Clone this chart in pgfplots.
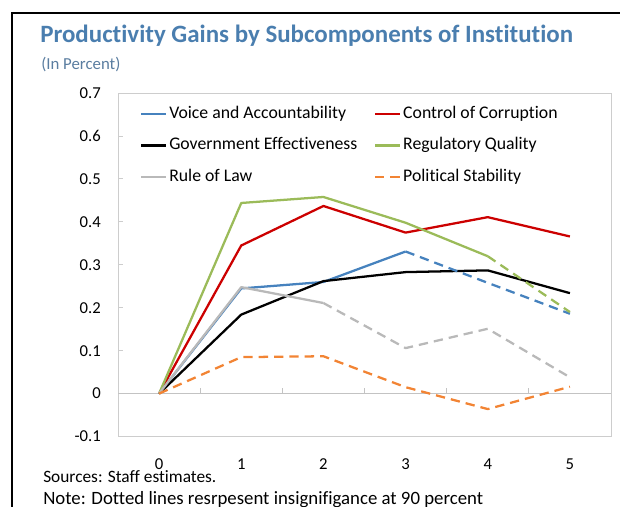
\documentclass[border=0pt]{standalone}
\usepackage{fontspec}
\setmainfont{Carlito}[Ligatures={NoCommon}]
\usepackage{pgfplots}
\pgfplotsset{compat=1.18}

\definecolor{titleblue}{RGB}{74,126,175}
\definecolor{subblue}{RGB}{90,125,160}
\definecolor{boxgray}{RGB}{205,205,205}
\definecolor{zerogray}{RGB}{195,195,195}
\definecolor{vablue}{RGB}{70,130,190}
\definecolor{ccred}{RGB}{204,0,0}
\definecolor{rqgreen}{RGB}{155,187,89}
\definecolor{rlgray}{RGB}{185,185,185}
\definecolor{psorange}{RGB}{242,132,52}

\tikzset{insig/.style={dash pattern=on 7pt off 4.5pt}}

\begin{document}
\begin{tikzpicture}
\path[use as bounding box] (0,0) rectangle (465pt,-379.5pt);
% outer frame of the page box
\draw[line width=1.5pt] (9.15pt,-400pt) -- (9.15pt,-9.75pt) -- (480pt,-9.75pt);
\node[anchor=base west, inner sep=0pt, text=titleblue, font=\fontsize{18.7}{22}\selectfont\bfseries]
  at (30pt,-32pt) {Productivity Gains by Subcomponents of Institution};
\node[anchor=base west, inner sep=0pt, text=subblue, font=\fontsize{12.6}{15}\selectfont]
  at (30.75pt,-52.1pt) {(In Percent)};

\begin{axis}[
  at={(88.5pt,-327.4pt)}, anchor=south west,
  scale only axis, width=369.75pt, height=257.6pt,
  xmin=-0.5, xmax=5.5, ymin=-0.1, ymax=0.7,
  axis line style={draw=boxgray, line width=0.75pt},
  tick pos=left,
  xtick={0,1,2,3,4,5}, xticklabels={0,1,2,3,4,5},
  xtick style={draw=none},
  ytick={-0.1,0,0.1,0.2,0.3,0.4,0.5,0.6,0.7},
  yticklabels={-0.1,0,0.1,0.2,0.3,0.4,0.5,0.6,0.7},
  ytick style={draw=boxgray, line width=0.75pt},
  major tick length=4pt,
  tick label style={font=\fontsize{12.5}{15}\selectfont},
  yticklabel style={anchor=east, inner xsep=0pt, xshift=-12.75pt},
  xticklabel style={anchor=base, yshift=-24.75pt},
  every axis plot/.append style={line width=1.7pt, line join=round},
  legend columns=2,
  legend cell align=left,
  legend image code/.code={\draw[#1] (0pt,0pt) -- (18.75pt,0pt);},
  legend style={at={(0.0446,0.963)}, anchor=north west, draw=none, fill=none,
    inner sep=0pt, outer sep=0pt, row sep=11.1pt, column sep=0pt,
    font=\fontsize{13.3}{16}\selectfont,
    nodes={inner xsep=1.5pt, inner ysep=0pt, text height=9.5pt, text depth=3pt},
    /tikz/every even column/.append style={column sep=11pt}},
]
\draw[zerogray, line width=0.75pt] (axis cs:-0.5,0) -- (axis cs:5.5,0);
\pgfplotsinvokeforeach{0.5,1.5,2.5,3.5,4.5}{
  \draw[zerogray, line width=0.75pt] (axis cs:#1,0) -- ([yshift=4.5pt]axis cs:#1,0);
}

\addplot[vablue] coordinates {(0,0) (1,0.245) (2,0.260) (3,0.331)};
\addlegendentry{Voice and Accountability}
\addplot[ccred] coordinates {(0,0) (1,0.345) (2,0.437) (3,0.375) (4,0.411) (5,0.366)};
\addlegendentry{Control of Corruption}
\addplot[black] coordinates {(0,0) (1,0.184) (2,0.262) (3,0.283) (4,0.287) (5,0.234)};
\addlegendentry{Government Effectiveness}
\addplot[rqgreen] coordinates {(0,0) (1,0.444) (2,0.458) (3,0.398) (4,0.320)};
\addlegendentry{Regulatory Quality}
\addplot[rlgray] coordinates {(0,0) (1,0.248) (2,0.211)};
\addlegendentry{Rule of Law}
\addplot[psorange, insig] coordinates {(0,0) (1,0.085) (2,0.087) (3,0.015) (4,-0.036) (5,0.016)};
\addlegendentry{Political Stability}

% insignificant segments
\addplot[vablue, insig, forget plot] coordinates {(3,0.331) (4,0.258) (5,0.186)};
\addplot[rqgreen, insig, forget plot] coordinates {(4,0.320) (5,0.190)};
\addplot[rlgray, insig, forget plot] coordinates {(2,0.211) (3,0.106) (4,0.151) (5,0.038)};
\end{axis}

\node[anchor=base west, inner sep=0pt, font=\fontsize{13}{15}\selectfont]
  at (32.25pt,-361.8pt) {Sources: Staff estimates.};
\node[anchor=base west, inner sep=0pt, font=\fontsize{14.1}{16}\selectfont]
  at (32.25pt,-378pt) {Note: Dotted lines resrpesent insignifigance at 90 percent};
\end{tikzpicture}
\end{document}
